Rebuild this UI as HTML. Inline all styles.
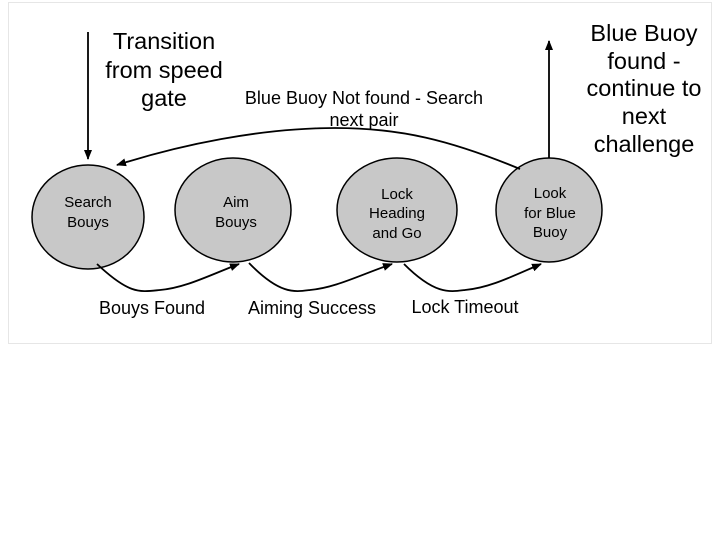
<!DOCTYPE html>
<html><head><style>
body{margin:0;background:#fff;width:720px;height:540px;overflow:hidden}
svg{display:block}
text{font-family:"Liberation Sans",sans-serif;fill:#000}
</style></head><body>
<svg width="720" height="540" viewBox="0 0 720 540">
<defs><marker id="a" markerWidth="10" markerHeight="10" refX="9" refY="5" orient="auto" markerUnits="userSpaceOnUse"><path d="M0,1 L10,5 L0,9 z" fill="#000"/></marker></defs>
<rect x="8.5" y="2.5" width="703" height="341" fill="#fff" stroke="#e6e6e6"/>
<g fill="#c8c8c8" stroke="#000" stroke-width="1.5">
<ellipse cx="88" cy="217" rx="56" ry="52"/>
<ellipse cx="233" cy="210" rx="58" ry="52"/>
<ellipse cx="397" cy="210" rx="60" ry="52"/>
<ellipse cx="549" cy="210" rx="53" ry="52"/>
</g>
<g fill="none" stroke="#000" stroke-width="1.8">
<path d="M88,32 L88,159" marker-end="url(#a)"/>
<path d="M549,158 L549,41" marker-end="url(#a)"/>
<path d="M520,169 C450,140 400,128 335,128 C260,128 180,145 117,165" marker-end="url(#a)"/>
<path d="M97,264 C130,295 140,292 160,290 C185,288 210,275 239,264" marker-end="url(#a)"/>
<path d="M249,263 C280,295 295,292 310,290 C335,288 360,275 392,264" marker-end="url(#a)"/>
<path d="M404,264 C435,295 450,292 465,290 C490,288 515,275 541,264" marker-end="url(#a)"/>
</g>
<g font-size="23.5" text-anchor="middle">
<text x="164" y="49">Transition</text>
<text x="164" y="78">from speed</text>
<text x="164" y="106">gate</text>
<text x="644" y="41">Blue Buoy</text>
<text x="644" y="69">found -</text>
<text x="644" y="96">continue to</text>
<text x="644" y="124">next</text>
<text x="644" y="152">challenge</text>
</g>
<g font-size="18" text-anchor="middle">
<text x="364" y="104">Blue Buoy Not found - Search</text>
<text x="364" y="126">next pair</text>
<text x="152" y="314">Bouys Found</text>
<text x="312" y="314">Aiming Success</text>
<text x="465" y="313">Lock Timeout</text>
</g>
<g font-size="15" text-anchor="middle">
<text x="88" y="207">Search</text>
<text x="88" y="227">Bouys</text>
<text x="236" y="207">Aim</text>
<text x="236" y="227">Bouys</text>
<text x="397" y="199">Lock</text>
<text x="397" y="218">Heading</text>
<text x="397" y="238">and Go</text>
<text x="550" y="198">Look</text>
<text x="550" y="218">for Blue</text>
<text x="550" y="237">Buoy</text>
</g>
</svg>
</body></html>
